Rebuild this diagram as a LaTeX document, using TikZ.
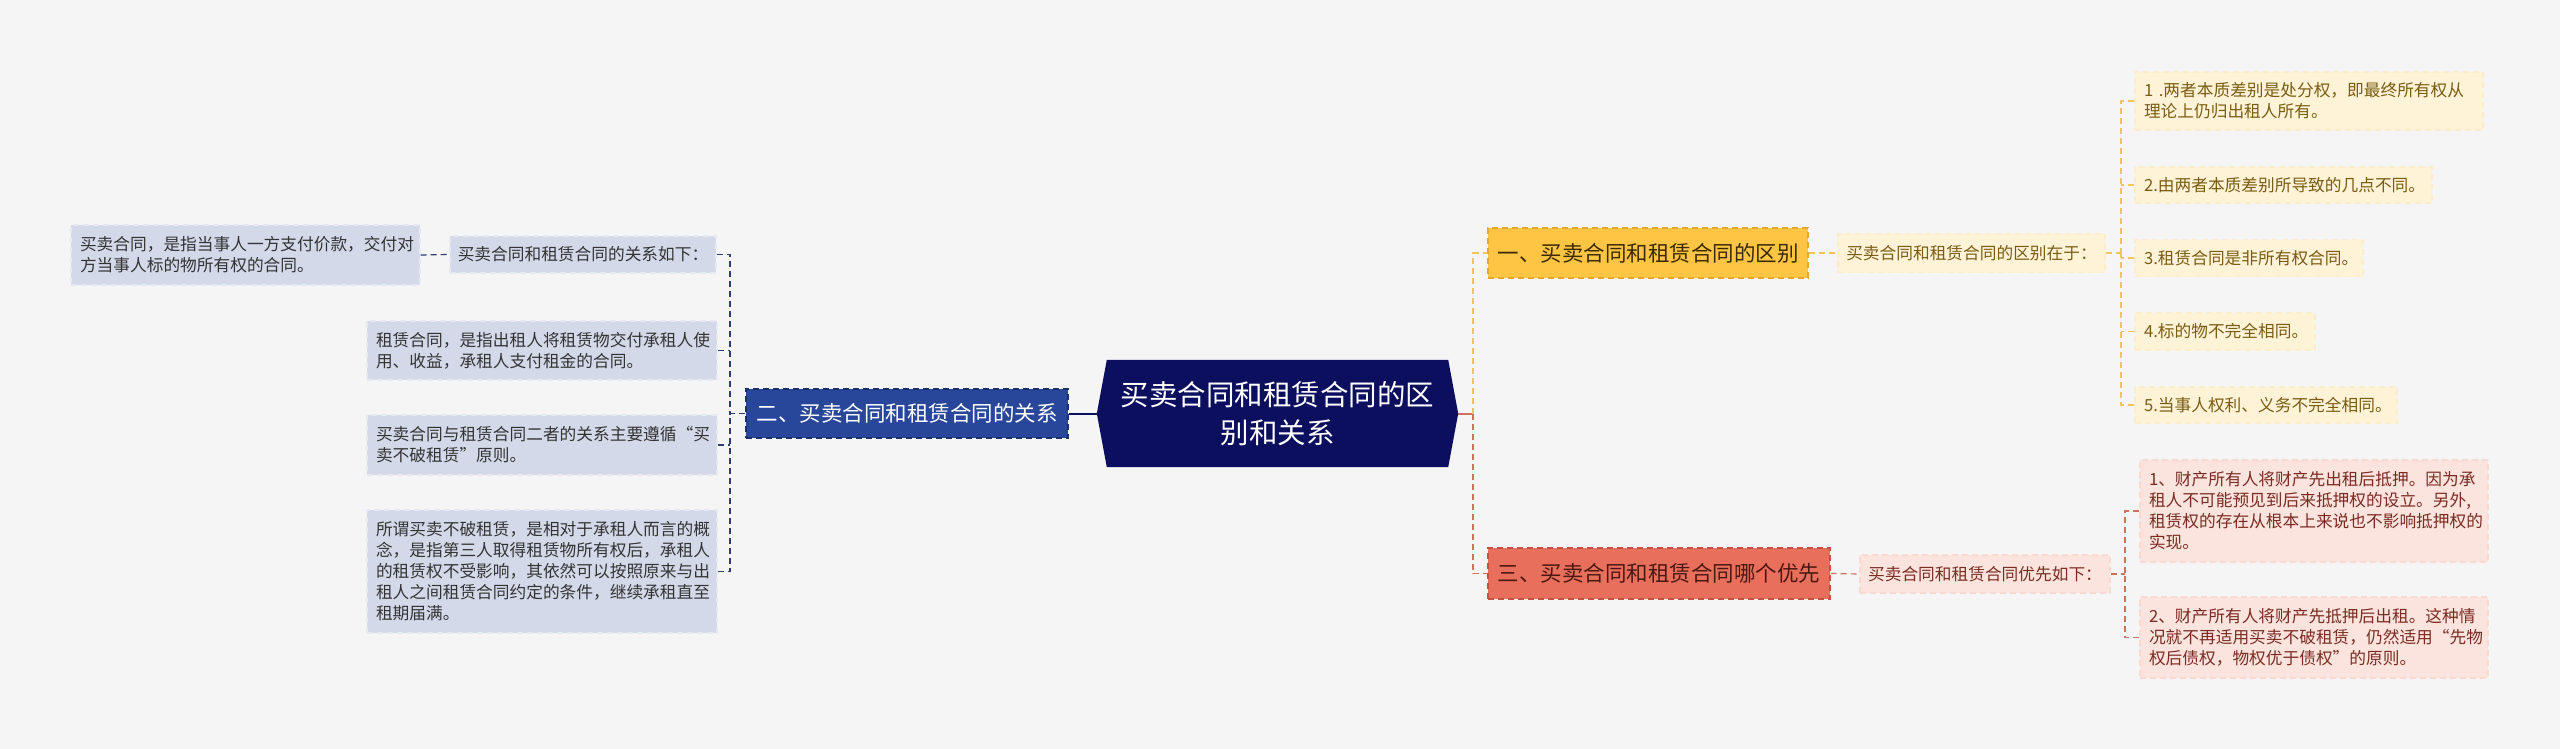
\documentclass[tikz,border=0pt]{standalone}
\usepackage{fontspec}
\newfontfamily\cjk{Noto Sans CJK SC}
\usetikzlibrary{calc}
\pgfdeclarelayer{bgzero}
\pgfdeclarelayer{bgone}
\pgfsetlayers{bgzero,bgone,main}

\definecolor{bgc}{HTML}{F5F5F5}
\definecolor{navy}{HTML}{0B0F5E}
\definecolor{bluetwo}{HTML}{28479A}
\definecolor{blueb}{HTML}{1C2F6E}
\definecolor{lboxc}{HTML}{D3D9E9}
\definecolor{lboxb}{HTML}{E6E9F2}
\definecolor{ltext}{HTML}{333333}
\definecolor{lconc}{HTML}{2D3C78}
\definecolor{ynodec}{HTML}{FDC543}
\definecolor{ynodeb}{HTML}{E6A82C}
\definecolor{ytextd}{HTML}{3A2A05}
\definecolor{yboxc}{HTML}{FEF3D7}
\definecolor{yboxb}{HTML}{FCEDCB}
\definecolor{ytext}{HTML}{7A5C12}
\definecolor{yconc}{HTML}{F2C45A}
\definecolor{rnodec}{HTML}{E86F5B}
\definecolor{rnodeb}{HTML}{C4513F}
\definecolor{rtextd}{HTML}{4A1812}
\definecolor{rboxc}{HTML}{FBE3DE}
\definecolor{rboxb}{HTML}{F8DAD3}
\definecolor{rtext}{HTML}{7A2C22}
\definecolor{rconc}{HTML}{D2705E}

\tikzset{
  smallfont/.style={font={\cjk\fontsize{16.7pt}{21pt}\selectfont}},
  midfont/.style={font={\cjk\fontsize{21.5pt}{26pt}\selectfont}},
  dsh/.style={dash pattern=on 6pt off 4pt, line width=1.2pt},
  lbox/.style={smallfont, dsh, draw=lboxb, fill=lboxc, text=ltext, align=left, inner xsep=9pt, inner ysep=0pt},
  ybox/.style={smallfont, dsh, draw=yboxb, fill=yboxc, text=ytext, align=left, inner xsep=9pt, inner ysep=0pt},
  rbox/.style={smallfont, dsh, draw=rboxb, fill=rboxc, text=rtext, align=left, inner xsep=9pt, inner ysep=0pt},
  bnode/.style={midfont, dsh, draw=blueb, fill=bluetwo, text=white, inner sep=0pt},
  ynode/.style={midfont, dsh, draw=ynodeb, fill=ynodec, text=ytextd, inner sep=0pt},
  rnode/.style={midfont, dsh, draw=rnodeb, fill=rnodec, text=rtextd, inner sep=0pt},
  lcon/.style={dsh, draw=lconc},
  ycon/.style={dsh, draw=yconc},
  rcon/.style={dsh, draw=rconc},
}

\begin{document}
\begin{tikzpicture}[x=1pt,y=-1pt]
\begin{pgfonlayer}{bgzero}
\fill[bgc] (0,0) rectangle (2560,749);
\end{pgfonlayer}
\useasboundingbox (0,0) rectangle (2560,749);

% center
\node[font={\cjk\fontsize{28.5pt}{38pt}\selectfont}, text=white, align=center,
      minimum width=341pt, minimum height=107pt, inner sep=0pt] (c) at (1277.5,413.5)
      {买卖合同和租赁合同的区\\别和关系};
\coordinate (cL) at ($(c.west)+(-10,0)$);
\coordinate (cR) at ($(c.east)+(10,0)$);
\begin{pgfonlayer}{bgone}
\fill[navy] (c.north west) -- (c.north east) -- (cR) -- (c.south east) -- (c.south west) -- (cL) -- cycle;
\end{pgfonlayer}

% left branch
\node[bnode, minimum width=322pt, minimum height=49pt] (b2) at (907,413.5) {二、买卖合同和租赁合同的关系};
\node[lbox, minimum width=266pt, minimum height=37pt, align=center, inner xsep=0pt] (ll) at (583,254.5) {买卖合同和租赁合同的关系如下：};
\node[lbox, minimum width=349pt, minimum height=60pt, text width=331pt] (L1) at (245.5,255) {买卖合同，是指当事人一方支付价款，交付对\\方当事人标的物所有权的合同。};
\node[lbox, minimum width=350pt, minimum height=59pt, text width=332pt] (L2) at (542,350.5) {租赁合同，是指出租人将租赁物交付承租人使\\用、收益，承租人支付租金的合同。};
\node[lbox, minimum width=350pt, minimum height=60pt, text width=332pt] (L3) at (542,445) {买卖合同与租赁合同二者的关系主要遵循“买\\卖不破租赁”原则。};
\node[lbox, minimum width=350pt, minimum height=123pt, text width=332pt] (L4) at (542,571.5) {所谓买卖不破租赁，是相对于承租人而言的概\\念，是指第三人取得租赁物所有权后，承租人\\的租赁权不受影响，其依然可以按照原来与出\\租人之间租赁合同约定的条件，继续承租直至\\租期届满。};

\coordinate (jL) at (730,413.5);
\draw[navy, line width=2pt] (b2.east) -- (cL);
\draw[lcon] (b2.west) -- (jL);
\draw[lcon] (ll.east) -| (jL);
\draw[lcon] (L4.east) -| (jL);
\draw[lcon] (L2.east) -- (L2.east -| jL);
\draw[lcon] (L3.east) -- (L3.east -| jL);
\draw[lcon] (L1.east) -- (ll.west);

% right: yellow
\node[ynode, minimum width=320pt, minimum height=50pt] (y1) at (1648,253) {一、买卖合同和租赁合同的区别};
\node[ybox, minimum width=267pt, minimum height=39pt, align=center, inner xsep=0pt] (yl) at (1971.5,253) {买卖合同和租赁合同的区别在于：};
\node[ybox, minimum width=348pt, minimum height=58pt, text width=330pt] (R1) at (2309,101) {1 .两者本质差别是处分权，即最终所有权从\\理论上仍归出租人所有。};
\node[ybox, minimum width=297pt, minimum height=36pt, text width=279pt] (R2) at (2283.5,185) {2.由两者本质差别所导致的几点不同。};
\node[ybox, minimum width=228pt, minimum height=37pt, text width=210pt] (R3) at (2249,258) {3.租赁合同是非所有权合同。};
\node[ybox, minimum width=180pt, minimum height=37pt, text width=162pt] (R4) at (2225,331.5) {4.标的物不完全相同。};
\node[ybox, minimum width=262pt, minimum height=36pt, text width=244pt] (R5) at (2266,405) {5.当事人权利、义务不完全相同。};

% right: red
\node[rnode, minimum width=342pt, minimum height=51pt] (r3) at (1659,573.5) {三、买卖合同和租赁合同哪个优先};
\node[rbox, minimum width=250pt, minimum height=38pt, align=center, inner xsep=0pt] (rl) at (1985,574) {买卖合同和租赁合同优先如下：};
\node[rbox, minimum width=348pt, minimum height=102pt, text width=330pt] (P1) at (2314,511) {1、财产所有人将财产先出租后抵押。因为承\\租人不可能预见到后来抵押权的设立。另外,\\租赁权的存在从根本上来说也不影响抵押权的\\实现。};
\node[rbox, minimum width=348pt, minimum height=81pt, text width=330pt] (P2) at (2314,637.5) {2、财产所有人将财产先抵押后出租。这种情\\况就不再适用买卖不破租赁，仍然适用“先物\\权后债权，物权优于债权”的原则。};

\coordinate (jR) at (1473,413.5);
\draw[rconc, line width=2pt] (cR) -- (jR);
\draw[ycon] (jR) |- (y1.west);
\draw[rcon] (jR) |- (r3.west);
\draw[ycon] (y1.east) -- (yl.west);
\draw[rcon] (r3.east) -- (rl.west);

\coordinate (jY) at (2121,253);
\draw[ycon] (yl.east) -- (jY);
\draw[ycon] (R1.west) -| (jY);
\draw[ycon] (R5.west) -| (jY);
\draw[ycon] (R2.west) -- (R2.west -| jY);
\draw[ycon] (R3.west) -- (R3.west -| jY);
\draw[ycon] (R4.west) -- (R4.west -| jY);

\coordinate (jP) at (2125,574);
\draw[rcon] (rl.east) -- (jP);
\draw[rcon] (P1.west) -| (jP);
\draw[rcon] (P2.west) -| (jP);
\end{tikzpicture}
\end{document}
